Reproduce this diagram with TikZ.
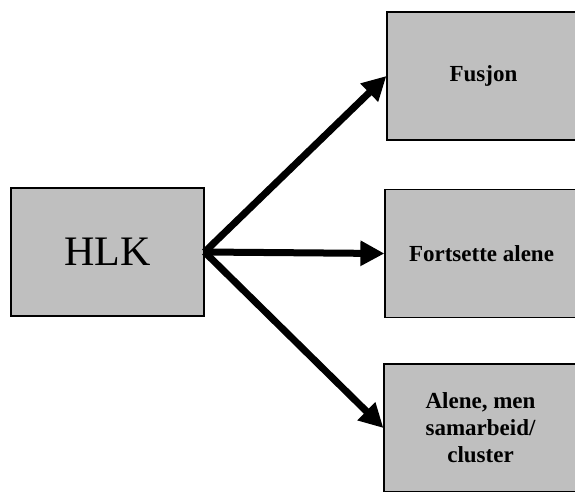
\documentclass[tikz,border=0pt]{standalone}
\usepackage{fontspec}
\setmainfont{Liberation Serif}
\usetikzlibrary{arrows.meta}

\begin{document}
\begin{tikzpicture}
[x=1pt,y=-1pt,
  boxDecorate/.style={shape=rectangle,draw,line width=1.2pt,fill=black!25,
    minimum width=193pt,minimum height=128pt,inner sep=0pt,align=center},%
  lineDecorate/.style={-{Triangle[length=24pt,width=24pt]},line width=7pt}]
\useasboundingbox (0,0) rectangle (575,491);
%% nodes or boxes
\node (hlk) at (107.5,252) [boxDecorate,font=\fontsize{42}{46}\selectfont] {HLK};
\node (fusjon) at (483.5,76) [boxDecorate,font=\bfseries\fontsize{23}{27}\selectfont] {Fusjon};
\node (fortsette) at (481.5,253.5) [boxDecorate,font=\bfseries\fontsize{23}{27}\selectfont] {Fortsette alene};
\node (alene) at (480.5,428) [boxDecorate,font=\bfseries\fontsize{23}{27}\selectfont]
  {Alene, men\\samarbeid/\\cluster};
%% edges or arrows
\path
\foreach \endnode in {fusjon, fortsette, alene}
{
  (hlk.east) edge[lineDecorate] (\endnode.west)
};
\end{tikzpicture}
\end{document}
